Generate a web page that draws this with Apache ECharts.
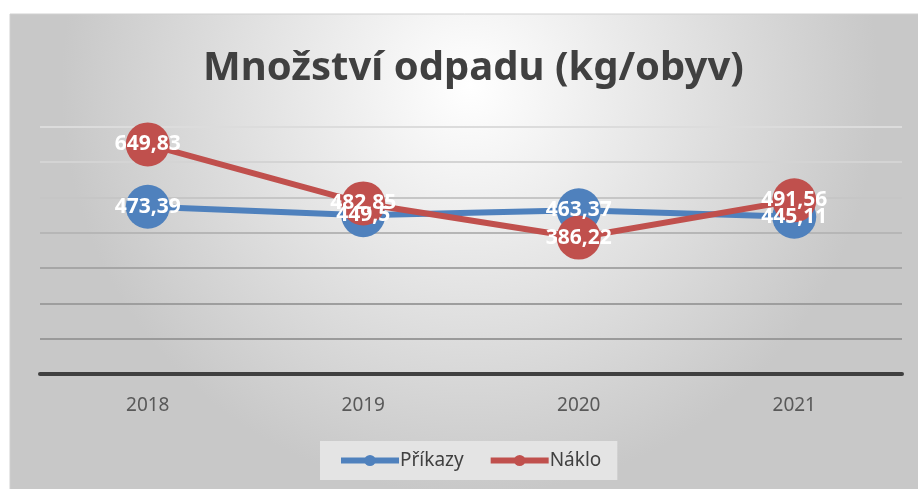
<!DOCTYPE html>
<html>
<head>
<meta charset="utf-8">
<script src="https://cdn.jsdelivr.net/npm/echarts@6/dist/echarts.min.js"></script>
<style>
  html, body { margin: 0; padding: 0; background: #fff; }
  #chart { width: 918px; height: 489px; }
</style>
</head>
<body>
<div id="chart"></div>
<script>
// data
const years = ['2018', '2019', '2020', '2021'];
const prikazy = [473.39, 449.5, 463.37, 445.11];
const naklo = [649.83, 482.85, 386.22, 491.56];

const FONT = '"Noto Sans", "DejaVu Sans", sans-serif';
const BLUE = '#4f81bd';
const RED = '#c0504d';

const chart = echarts.init(document.getElementById('chart'));

// carka jako desetinny oddelovac
function fmt(p) {
    return String(p.value).replace('.', ',');
}

function lineSeries(name, data, color) {
    return {
        name: name,
        type: 'line',
        data: data,
        symbol: 'circle',
        symbolSize: 44,
        itemStyle: { color: color },
        lineStyle: { color: color, width: 6 },
        label: {
            show: true,
            position: 'inside',
            formatter: fmt,
            color: '#fff',
            fontFamily: FONT,
            fontWeight: 'bold',
            fontSize: 21
        },
        emphasis: { disabled: true },
        animation: false
    };
}

chart.setOption({
    backgroundColor: '#fff',
    graphic: [{
        type: 'rect',
        z: -10,
        shape: { x: 10, y: 14, width: 920, height: 480 },
        style: {
            fill: {
                type: 'radial', x: 0.5, y: 0.15, r: 0.85,
                colorStops: [
                    { offset: 0, color: '#ffffff' },
                    { offset: 1, color: '#c8c8c8' }
                ]
            },
            stroke: '#d0d0d0',
            lineWidth: 1
        }
    }],
    title: {
        text: 'Množství odpadu (kg/obyv)',
        left: 198,
        top: 44,
        textStyle: { fontFamily: FONT, fontSize: 40, fontWeight: 'bold', color: '#404040' }
    },
    legend: {
        bottom: 9,
        left: 320,
        itemWidth: 58,
        itemHeight: 14,
        itemGap: 24,
        padding: [10, 16, 10, 18],
        backgroundColor: '#e4e4e4',
        lineStyle: { width: 6 },
        textStyle: { fontFamily: FONT, fontSize: 19, color: '#404040', padding: [0, 0, 0, -4] },
        data: ['Příkazy', 'Náklo']
    },
    grid: { left: 40, right: 16, top: 126.7, bottom: 115 },
    xAxis: {
        type: 'category',
        data: years,
        boundaryGap: true,
        axisLine: { lineStyle: { color: '#404040', width: 4 } },
        axisTick: { show: false },
        axisLabel: { fontFamily: FONT, fontSize: 19, color: '#595959', margin: 22 }
    },
    yAxis: {
        type: 'value',
        min: 0,
        max: 700,
        interval: 100,
        axisLabel: { show: false },
        axisLine: { show: false },
        axisTick: { show: false },
        splitLine: {
            lineStyle: {
                width: 2,
                color: ['#9a9a9a', '#9a9a9a', '#9e9e9e', '#a6a6a6', '#b6b6b6', '#c6c6c6', '#d4d4d4', '#dcdcdc']
            }
        }
    },
    series: [
        lineSeries('Příkazy', prikazy, BLUE),
        lineSeries('Náklo', naklo, RED)
    ]
});
</script>
</body>
</html>
